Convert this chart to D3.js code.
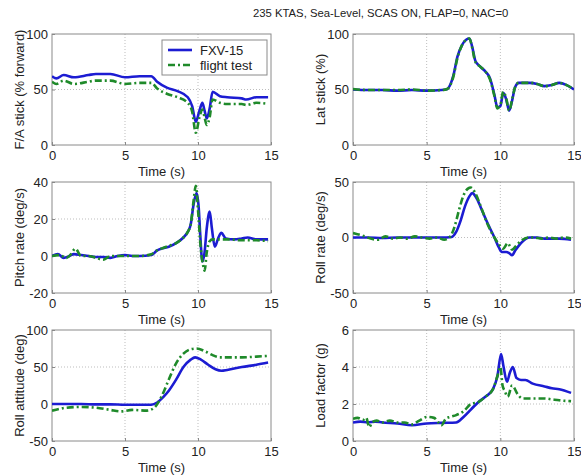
<!DOCTYPE html>
<html><head><meta charset="utf-8">
<script src="https://cdn.jsdelivr.net/npm/d3@7"></script>
<style>
body{margin:0;background:#fff;}
text{font-family:"Liberation Sans",Arial,sans-serif;fill:#222;}
</style></head>
<body><svg id="c" width="581" height="475"></svg>
<script>
// ---------- data ----------
const title = "235 KTAS, Sea-Level, SCAS ON, FLAP=0, NAC=0";
const seriesNames = ["FXV-15", "flight test"];
const timeTicks = [0, 5, 10, 15];

// F/A stick (% forward)
const faT = [0,0.3,0.8,1.5,2.5,3,4,5,6,6.8,7.2,7.9,8.6,9.3,9.6,9.85,10.1,10.3,10.45,10.6,10.8,11,11.5,12,13,13.3,14,14.8];
const faFxv = [62,60,63,61,63,64,64,61,62,62,57,51.5,48.5,43,35,21,31,38,31,24,33,48,44,43,42,41,43,43];
const faFt  = [57,55,58,55,57,58,58,55,56,56,51,46,43,38,30,11,25,32,25,18,25,41,38,37,37,36,38,37];
const faTicks = [0, 50, 100];

// Lat stick (%)
const latT = [0,1,2,3,4,5,6,6.4,6.8,7.1,7.4,7.7,7.9,8.1,8.3,8.6,9,9.3,9.6,9.8,10.0,10.2,10.4,10.6,10.8,11.0,11.25,12,12.5,13,13.5,14,14.5,15];
const latFxv = [50,49.5,49.5,49,49.5,49,49.5,50.5,62,80,90,95,96,88,76,71,66,60,45,34,35,47,41,31,40,52,56,56,55,53,54,56,54,50];
const latFt  = [50.5,49.5,49.5,49.5,50,49,49.5,50.5,61,79,90,95,96,87,75,71,66,59,44,33,36,48,42,31,41,52,56,56,55,53,54,56,54,50];
const latTicks = [0, 50, 100];

// Pitch rate (deg/s)
const prTFxv = [0,0.4,0.8,1.2,1.5,2,2.5,3,3.5,4,4.5,5,5.5,6,6.8,7.2,7.5,8,8.5,9,9.3,9.5,9.7,9.9,10.05,10.15,10.3,10.45,10.6,10.8,10.95,11.15,11.4,11.6,11.9,12.5,13,13.4,14,14.8];
const prFxv  = [0,1,-1,0,1,0.5,0,-0.5,-0.5,-1,0,0.5,0,0,0.5,3,4,5,7,10,13,17,28,34,26,12,-3,2,15,24,15,5,10,12.5,9.5,9,9.5,10,9,9];
const prTFt  = [0,0.5,1,1.3,1.6,2,2.5,3,3.5,4,5,6,6.8,7.2,7.5,8,8.5,9,9.3,9.5,9.7,9.85,10.0,10.2,10.35,10.45,10.6,10.8,11,11.5,12,13,14,14.8];
const prFt   = [0,0.5,-1,1,4,0,0,-1,-2,0,0,0,1,3,4,5.5,7,10,13,17,30,38,25,3,-5,-8,2,8,9,9,9,8.5,8.5,8];
const prTicks = [-20, 0, 20, 40];

// Roll rate (deg/s)
const rrTFxv = [0,1,2,3,4,5,6,6.7,7,7.3,7.6,7.9,8.1,8.4,8.8,9.2,9.6,9.9,10.1,10.4,10.6,10.8,11,11.4,12,12.5,13,14,14.8];
const rrFxv  = [0,0,-0.5,0,0,0,0,0.5,5,15,28,37,40,35,23,11,0,-9,-13,-13,-14,-16,-12,-5,0,0,-1,-1,-2];
const rrTFt  = [0,0.3,0.8,1.2,1.7,2.2,2.7,3.2,3.7,4.2,4.7,5.2,5.7,6.2,6.6,6.9,7.2,7.5,7.8,8.0,8.3,8.7,9.1,9.6,9.9,10.2,10.5,10.8,11.1,11.5,11.9,12.3,12.8,13.3,13.8,14.3,14.8];
const rrFt   = [4,3,1,-1,-2,1,-1,0,-1,1,0,-1,0,-2,1,10,25,38,44,45,40,27,13,0,-6,-10,-5,-11,-7,-2,0,0,-1,0,-1,0,-1];
const rrTicks = [-50, 0, 50];

// Roll attitude (deg)
const raTFxv = [0,1,2,3,4,5,6,6.8,7.2,7.6,8,8.5,9,9.5,9.8,10.2,10.7,11.2,11.6,12,13,14,14.8];
const raFxv  = [0,0,0,-0.5,-0.5,-1,-1,-1,2,9,18,33,50,60,63,60,53,47,45,46,50,53,56];
const raTFt  = [0,1,2,3,4,4.7,5.5,6.5,7,7.5,8,8.5,9,9.5,9.9,10.5,11,11.5,12,13,14,14.8];
const raFt   = [-9,-5,-4,-5,-8,-10,-8,-9,-5,10,33,55,68,74,75,71,66,63,63,63,64,65];
const raTicks = [-50, 0, 50, 100];

// Load factor (g)
const lfTFxv = [0,0.5,1,1.5,2,3,4,5,6,7,7.5,8,8.5,9,9.5,9.8,10.05,10.2,10.45,10.65,10.85,11.1,11.4,11.7,12.2,13,13.5,14,14.8];
const lfFxv  = [1.0,1.05,1.0,1.05,1.0,0.95,0.85,0.95,0.98,1.0,1.3,1.7,2.1,2.4,2.8,3.5,4.7,4.1,3.2,3.7,4.0,3.4,3.3,3.3,3.1,2.95,2.85,2.8,2.6];
const lfTFt  = [0,0.3,0.7,0.9,1.1,1.3,1.6,2,2.5,3,3.5,4,4.5,5,5.5,5.8,6,6.3,6.6,7,7.5,8,8.5,9,9.5,9.8,10.0,10.15,10.3,10.5,10.8,11.2,11.5,12,13,13.5,14,14.8];
const lfFt   = [1.2,1.25,1.15,1.25,0.75,1.0,1.1,1.0,1.1,1.0,1.0,0.9,1.1,1.3,1.25,1.0,0.85,1.2,1.3,1.4,1.6,2.0,2.1,2.4,2.8,3.5,4.0,3.0,2.7,2.4,3.0,2.5,2.3,2.3,2.3,2.25,2.2,2.15];
const lfTicks = [0, 2, 4, 6];

// ---------- layout ----------
const panels = [
  {label:"F/A stick (% forward)", ticks:faTicks, fxvT:faT, fxv:faFxv, ftT:faT, ft:faFt, col:0, row:0, legend:true},
  {label:"Lat stick (%)", ticks:latTicks, fxvT:latT, fxv:latFxv, ftT:latT, ft:latFt, col:1, row:0},
  {label:"Pitch rate (deg/s)", ticks:prTicks, fxvT:prTFxv, fxv:prFxv, ftT:prTFt, ft:prFt, col:0, row:1},
  {label:"Roll rate (deg/s)", ticks:rrTicks, fxvT:rrTFxv, fxv:rrFxv, ftT:rrTFt, ft:rrFt, col:1, row:1},
  {label:"Roll attitude (deg)", ticks:raTicks, fxvT:raTFxv, fxv:raFxv, ftT:raTFt, ft:raFt, col:0, row:2},
  {label:"Load factor (g)", ticks:lfTicks, fxvT:lfTFxv, fxv:lfFxv, ftT:lfTFt, ft:lfFt, col:1, row:2}
];
const colX = [52, 353], colW = [219, 221];
const rowY = [34, 182, 330], rowH = 111;
const blue = "#1c1cd2", green = "#1f8a2a";
const fmt = d => String(d);

const svg = d3.select("#c");
svg.append("text").attr("x", 253).attr("y", 17).attr("font-size", 11.3).text(title);

panels.forEach(p => {
  const x0 = colX[p.col], y0 = rowY[p.row], w = colW[p.col], h = rowH;
  const g = svg.append("g").attr("transform", `translate(${x0},${y0})`);
  const x = d3.scaleLinear().domain([0, 15]).range([0, w]);
  const y = d3.scaleLinear().domain(d3.extent(p.ticks)).range([h, 0]);

  // grid
  g.append("g").selectAll("line").data(timeTicks.slice(1, -1)).join("line")
    .attr("x1", d => x(d)).attr("x2", d => x(d)).attr("y1", 0).attr("y2", h)
    .attr("stroke", "#bdbdbd").attr("stroke-dasharray", "1,2");
  g.append("g").selectAll("line").data(p.ticks.slice(1, -1)).join("line")
    .attr("y1", d => y(d)).attr("y2", d => y(d)).attr("x1", 0).attr("x2", w)
    .attr("stroke", "#bdbdbd").attr("stroke-dasharray", "1,2");

  // axes
  const ax = g.append("g").attr("transform", `translate(0,${h})`)
    .call(d3.axisBottom(x).tickValues(timeTicks).tickFormat(fmt).tickSize(-3).tickPadding(6));
  const ay = g.append("g")
    .call(d3.axisLeft(y).tickValues(p.ticks).tickFormat(fmt).tickSize(-3).tickPadding(4));
  [ax, ay].forEach(a => {
    a.select(".domain").remove();
    a.selectAll(".tick line").attr("stroke", "#888");
    a.selectAll("text").attr("font-size", 13).attr("font-family", "Liberation Sans, Arial, sans-serif").attr("fill", "#222");
  });

  // box
  g.append("rect").attr("width", w).attr("height", h).attr("fill", "none").attr("stroke", "#8a8a8a").attr("stroke-width", 1);

  // labels
  g.append("text").attr("x", w / 2).attr("y", h + 31).attr("text-anchor", "middle").attr("font-size", 13).text("Time (s)");
  g.append("text").attr("transform", `translate(-28,${h / 2}) rotate(-90)`).attr("text-anchor", "middle")
    .attr("font-size", 13).text(p.label);

  // lines
  const line = d3.line().x(d => x(d[0])).y(d => y(d[1])).curve(d3.curveMonotoneX);
  const clipId = "clip" + p.col + p.row;
  g.append("clipPath").attr("id", clipId).append("rect").attr("width", w).attr("height", h);
  const lg = g.append("g").attr("clip-path", `url(#${clipId})`);
  lg.append("path").datum(d3.zip(p.fxvT, p.fxv)).attr("d", line)
    .attr("fill", "none").attr("stroke", blue).attr("stroke-width", 2.6).attr("stroke-linejoin", "round");
  lg.append("path").datum(d3.zip(p.ftT, p.ft)).attr("d", line)
    .attr("fill", "none").attr("stroke", green).attr("stroke-width", 2.6)
    .attr("stroke-dasharray", "7,3,2,3");

  if (p.legend) {
    const L = g.append("g").attr("transform", `translate(${162 - x0},${40 - y0})`);
    L.append("rect").attr("width", 105).attr("height", 35).attr("fill", "#fff").attr("stroke", "#8a8a8a");
    [[blue, null], [green, "7,3,2,3"]].forEach((s, i) => {
      const yy = 10 + i * 15;
      L.append("line").attr("x1", 6).attr("x2", 30).attr("y1", yy).attr("y2", yy)
        .attr("stroke", s[0]).attr("stroke-width", 2.6).attr("stroke-dasharray", s[1]);
      L.append("text").attr("x", 38).attr("y", yy + 4.5).attr("font-size", 13).text(seriesNames[i]);
    });
  }
});
</script></body></html>
